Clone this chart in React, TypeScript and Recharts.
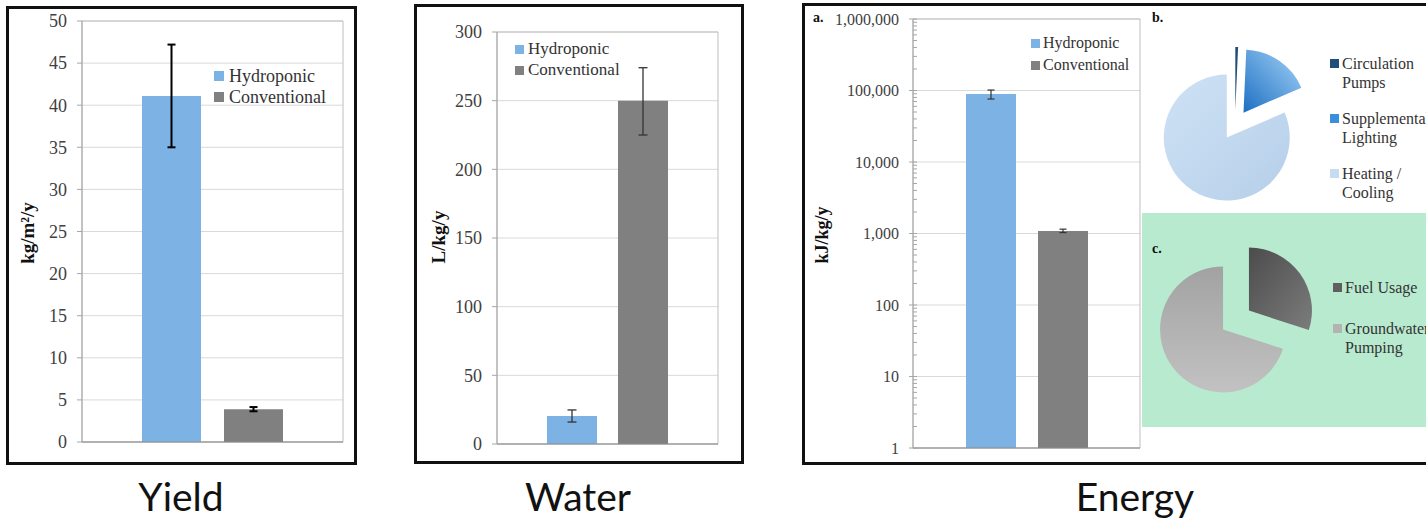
import React from 'react';
import {
  BarChart, Bar, XAxis, YAxis, CartesianGrid, ErrorBar, Legend, ReferenceArea,
  PieChart, Pie, Cell,
} from 'recharts';

const serif = '"Liberation Serif", "Times New Roman", serif';

// series shared by the three bar panels
const seriesNames = ['Hydroponic', 'Conventional'];
const seriesColors = ['#7cb3e4', '#808080'];

const yieldValues = [41.1, 3.9];
const yieldErrors = [[6.1, 6.1], [0.25, 0.25]];
const yieldTicks = [0, 5, 10, 15, 20, 25, 30, 35, 40, 45, 50];

const waterValues = [20.4, 250];
const waterErrors = [[4.4, 4.4], [25, 24]];
const waterTicks = [0, 50, 100, 150, 200, 250, 300];

const energyValues = [89000, 1080];
const energyErrors = [[13000, 12500], [50, 70]];
const energyTicks = [1, 10, 100, 1000, 10000, 100000, 1000000];
const minorSteps = [1, 2, 3, 4, 5, 6, 7, 8, 9];

// pie b: hydroponic energy split, pie c: conventional energy split
const hydroEnergyNames = ['Circulation Pumps', 'Supplemental Lighting', 'Heating / Cooling'];
const hydroEnergyShares = [0.7, 17.8, 81.5];
const hydroEnergyFills = ['#1f4e79', 'url(#gradLight)', 'url(#gradHeat)'];
const hydroEnergyIcons = ['#1f4e79', '#3a8edb', '#c5dcf1'];

const convEnergyNames = ['Fuel Usage', 'Groundwater Pumping'];
const convEnergyShares = [30, 70];
const convEnergyFills = ['url(#gradFuel)', 'url(#gradGround)'];
const convEnergyIcons = ['#5f5f5f', '#b3b3b3'];

const minorTicks = energyTicks.slice(0, -1).flatMap((t) => minorSteps.map((m) => m * t)).concat([1000000]);

const makeRow = (values: number[], errors: number[][]) => [{
  name: 'all',
  hydro: values[0],
  conv: values[1],
  hydroErr: errors[0],
  convErr: errors[1],
}];

function BarLegend({ payload, fontSize, rowH, icon, gap }: any) {
  const items = seriesNames.map((n) => (payload || []).find((p: any) => p.value === n)).filter(Boolean);
  return (
    <div style={{ fontFamily: serif, fontSize, color: '#333' }}>
      {items.map((p: any) => (
        <div key={p.value} style={{ display: 'flex', alignItems: 'center', height: rowH, whiteSpace: 'nowrap' }}>
          <span style={{ display: 'inline-block', width: icon, height: icon, background: p.color, marginRight: gap }} />
          <span>{p.value}</span>
        </div>
      ))}
    </div>
  );
}

function BarPanel(p: any) {
  const data = makeRow(p.values, p.errors);
  const fmt = (v: number) => v.toLocaleString('en-US');
  return (
    <div style={{ position: 'absolute', left: p.left, top: p.top }}>
      <BarChart
        width={p.width}
        height={p.height}
        data={data}
        margin={{ top: p.mTop, right: p.mRight, bottom: 0, left: 0 }}
        barSize={p.barSize}
        barGap={p.barGap}
      >
        <CartesianGrid vertical={false} stroke="#d9d9d9" />
        <XAxis dataKey="name" height={p.xH} tick={false} tickLine={false} axisLine={{ stroke: '#8c8c8c' }} />
        <YAxis
          type="number"
          scale={p.log ? 'log' : 'auto'}
          domain={p.domain}
          ticks={p.ticks}
          interval={0}
          allowDataOverflow
          width={p.yW}
          tickSize={p.tickSize}
          tickMargin={p.tickMargin}
          axisLine={{ stroke: '#a6a6a6' }}
          tickLine={{ stroke: '#a6a6a6' }}
          tick={{ fill: '#404040', fontSize: p.fontSize, fontFamily: serif }}
          tickFormatter={fmt}
          label={{
            content: () => (
              <text
                x={p.labelX}
                y={p.labelY}
                transform={`rotate(-90 ${p.labelX} ${p.labelY})`}
                textAnchor="middle"
                dominantBaseline="central"
                fontFamily={serif}
                fontWeight="bold"
                fontSize={p.labelSize}
                fill="#111"
              >
                {p.yLabel}
              </text>
            ),
          }}
        />
        {p.log && (
          <YAxis
            yAxisId="minor"
            type="number"
            scale="log"
            domain={p.domain}
            ticks={minorTicks}
            interval={0}
            allowDataOverflow
            mirror
            width={1}
            tickSize={4}
            axisLine={false}
            tickLine={{ stroke: '#a6a6a6' }}
            tickFormatter={() => ''}
          />
        )}
        <ReferenceArea y1={p.domain[0]} y2={p.domain[1]} fill="none" stroke="#bfbfbf" ifOverflow="visible" />
        <Legend
          layout="vertical"
          align="center"
          verticalAlign="middle"
          wrapperStyle={{ left: p.lgLeft, top: p.lgTop, width: 'auto', height: 'auto' }}
          content={(props: any) => (
            <BarLegend payload={props.payload} fontSize={p.lgFont} rowH={p.lgRow} icon={p.lgIcon} gap={p.lgGap} />
          )}
        />
        <Bar dataKey="hydro" name={seriesNames[0]} fill={seriesColors[0]} isAnimationActive={false}>
          <ErrorBar dataKey="hydroErr" width={p.errW} stroke={p.errColor} strokeWidth={p.errStroke} />
        </Bar>
        <Bar dataKey="conv" name={seriesNames[1]} fill={seriesColors[1]} isAnimationActive={false}>
          <ErrorBar dataKey="convErr" width={p.errW} stroke={p.errColor} strokeWidth={p.errStroke} />
        </Bar>
      </BarChart>
    </div>
  );
}

function ExplodedPie({ names, values, fills, explode, left, top, width, height, cx, cy, r }: any) {
  const data = names.map((n: string, i: number) => ({ name: n, value: values[i] }));
  const total = values.reduce((a: number, b: number) => a + b, 0);
  let cum = 0;
  const offsets = values.map((v: number) => {
    const mid = ((90 - (360 * (cum + v / 2)) / total) * Math.PI) / 180;
    cum += v;
    return [explode * Math.cos(mid), -explode * Math.sin(mid)];
  });
  return (
    <div style={{ position: 'absolute', left, top }}>
      <PieChart width={width} height={height} margin={{ top: 0, right: 0, bottom: 0, left: 0 }}>
        <defs>
          <linearGradient id="gradLight" x1="1" y1="0" x2="0" y2="1">
            <stop offset="0%" stopColor="#a6d4f8" />
            <stop offset="100%" stopColor="#1c6fc2" />
          </linearGradient>
          <linearGradient id="gradHeat" x1="0" y1="0" x2="1" y2="1">
            <stop offset="0%" stopColor="#cfe2f5" />
            <stop offset="100%" stopColor="#b5cfe9" />
          </linearGradient>
          <linearGradient id="gradFuel" x1="0" y1="0" x2="1" y2="1">
            <stop offset="0%" stopColor="#4c4c4c" />
            <stop offset="100%" stopColor="#7c7c7c" />
          </linearGradient>
          <linearGradient id="gradGround" x1="0" y1="0" x2="0" y2="1">
            <stop offset="0%" stopColor="#a2a2a2" />
            <stop offset="100%" stopColor="#c2c2c2" />
          </linearGradient>
        </defs>
        {data.map((_: any, i: number) => (
          <Pie
            key={i}
            data={data}
            dataKey="value"
            nameKey="name"
            cx={cx + offsets[i][0]}
            cy={cy + offsets[i][1]}
            outerRadius={r}
            startAngle={90}
            endAngle={-270}
            stroke="none"
            isAnimationActive={false}
          >
            {data.map((d: any, j: number) => (
              <Cell key={d.name} fill={j === i ? fills[j] : 'transparent'} />
            ))}
          </Pie>
        ))}
      </PieChart>
    </div>
  );
}

function PieLegend({ names, colors, left, top, spacing }: any) {
  return (
    <>
      {names.map((n: string, i: number) => (
        <div key={n} style={{ position: 'absolute', left, top: top + i * spacing, fontFamily: serif, fontSize: 16, color: '#333' }}>
          <span style={{ position: 'absolute', left: 0, top: 5, width: 9, height: 9, background: colors[i] }} />
          <div style={{ position: 'absolute', left: 12, top: 0, width: 100, lineHeight: '19px' }}>{n}</div>
        </div>
      ))}
    </>
  );
}

const boxStyle = (left: number, top: number, width: number, height: number): React.CSSProperties => ({
  position: 'absolute', left, top, width, height, border: '3px solid #111', boxSizing: 'border-box',
});

const captionStyle = (center: number): React.CSSProperties => ({
  position: 'absolute', left: center - 100, width: 200, top: 477, lineHeight: '39px',
  textAlign: 'center', fontFamily: 'Lato, "Open Sans", sans-serif', fontSize: 39, color: '#111',
});

const tagStyle = (left: number, top: number): React.CSSProperties => ({
  position: 'absolute', left, top, fontFamily: serif, fontWeight: 'bold', fontSize: 14, color: '#111', lineHeight: '14px',
});

export default function App() {
  return (
    <div style={{ position: 'absolute', left: 0, top: 0, width: 1426, height: 519, overflow: 'hidden', background: '#fff' }}>
      <div style={boxStyle(6, 6, 351, 459)} />
      <div style={boxStyle(414, 4, 330, 460)} />
      <div style={boxStyle(802, 3, 700, 462)} />
      <div style={{ position: 'absolute', left: 1142, top: 213, width: 300, height: 214, background: '#b8ead0' }} />

      <BarPanel
        left={10} top={10} width={342} height={450} mTop={11} mRight={9} xH={18} yW={72}
        values={yieldValues} errors={yieldErrors} ticks={yieldTicks} domain={[0, 50]}
        tickSize={5} tickMargin={10} fontSize={18}
        yLabel="kg/m²/y" labelX={17} labelY={223} labelSize={19}
        barSize={59} barGap={23} errW={4} errColor="#000" errStroke={2}
        lgLeft={204} lgTop={55.5} lgFont={18} lgRow={21} lgIcon={10} lgGap={5}
      />
      <BarPanel
        left={418} top={8} width={322} height={452} mTop={24} mRight={22} xH={16} yW={79}
        values={waterValues} errors={waterErrors} ticks={waterTicks} domain={[0, 300]}
        tickSize={5} tickMargin={10} fontSize={18}
        yLabel="L/kg/y" labelX={20} labelY={229} labelSize={19}
        barSize={50} barGap={21} errW={4.5} errColor="#333" errStroke={1.3}
        lgLeft={97} lgTop={30.5} lgFont={17} lgRow={21} lgIcon={9} lgGap={4}
      />
      <BarPanel
        log
        left={806} top={7} width={340} height={453} mTop={12} mRight={6} xH={12} yW={107}
        values={energyValues} errors={energyErrors} ticks={energyTicks} domain={[1, 1000000]}
        tickSize={4} tickMargin={10} fontSize={16}
        yLabel="kJ/kg/y" labelX={16} labelY={228} labelSize={18}
        barSize={50} barGap={22} errW={3.5} errColor="#333" errStroke={1.2}
        lgLeft={225} lgTop={25} lgFont={16} lgRow={22} lgIcon={9} lgGap={3}
      />

      <ExplodedPie
        names={hydroEnergyNames} values={hydroEnergyShares} fills={hydroEnergyFills} explode={15}
        left={1150} top={30} width={175} height={185} cx={85} cy={95} r={63}
      />
      <PieLegend names={hydroEnergyNames} colors={hydroEnergyIcons} left={1330} top={53.5} spacing={55} />

      <ExplodedPie
        names={convEnergyNames} values={convEnergyShares} fills={convEnergyFills} explode={16}
        left={1151} top={235} width={175} height={170} cx={85} cy={85} r={63}
      />
      <PieLegend names={convEnergyNames} colors={convEnergyIcons} left={1333} top={277.5} spacing={41} />

      <div style={tagStyle(813, 11)}>a.</div>
      <div style={tagStyle(1152, 11)}>b.</div>
      <div style={tagStyle(1152, 242)}>c.</div>

      <div style={captionStyle(181)}>Yield</div>
      <div style={captionStyle(578)}>Water</div>
      <div style={captionStyle(1135)}>Energy</div>
    </div>
  );
}
